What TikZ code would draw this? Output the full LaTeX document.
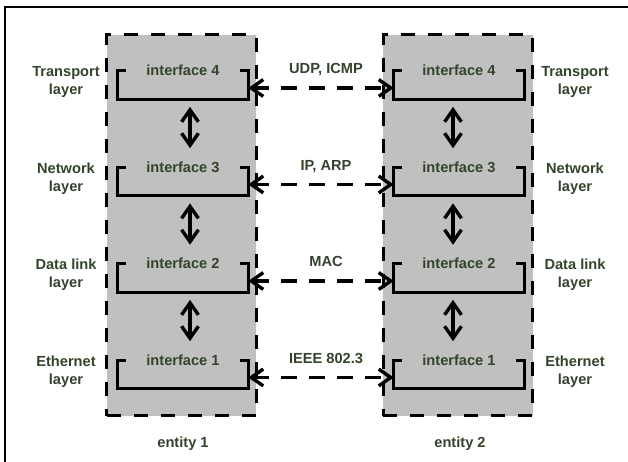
\documentclass[tikz,border=0pt]{standalone}
\usepackage{fontspec}
\setmainfont{Liberation Sans}
\usepackage{xcolor}
\usepackage{tikz}
\usetikzlibrary{positioning, arrows.meta}
\definecolor{osiTxt}{RGB}{ 52, 68, 44}
\definecolor{osiBox}{RGB}{192,192,192}

\begin{document}
\begin{tikzpicture}[
    ebox/.style={draw=black, line width=0.075cm, dash pattern=on 0.35cm off 0.325cm,
                 fill=osiBox, minimum width=3.73cm, minimum height=9.525cm},
    iface/.style={minimum width=3.25cm, minimum height=0.7cm, inner sep=0pt},
    bracket/.style={draw=black, line width=0.075cm},
    txt/.style={text=osiTxt, font=\fontsize{10.4}{12.8}\selectfont\bfseries, align=center},
    link/.style={line width=0.085cm, dash pattern=on 0.4cm off 0.3cm,
                 {Straight Barb[length=0.3cm, width=0.42cm]}-{Straight Barb[length=0.3cm, width=0.42cm]}},
    updown/.style={line width=0.085cm, shorten <=0.19cm, shorten >=0.475cm,
                 {Straight Barb[length=0.3cm, width=0.42cm]}-{Straight Barb[length=0.3cm, width=0.42cm]}}
  ]
  \useasboundingbox (0,0) rectangle (15.7,11.55);
  \draw[line width=0.05cm] (0.125,-1) rectangle (17,11.375);

  % entities
  \node[ebox] (e1) at (4.5375, 5.9125) {};
  \node[ebox] (e2) at (11.45, 5.9125) {};
  \node[txt] (n1) at (4.575, 0.45) {entity 1};
  \node[txt] (n2) at (11.5, 0.45) {entity 2};

  % interfaces
  \foreach \i/\y in {4/9.425, 3/7.0125, 2/4.6, 1/2.1875} {
    \node[iface] (a\i) at (4.575, \y) {};
    \node[iface] (b\i) at (11.475, \y) {};
    \foreach \f in {a\i, b\i} {
      \draw[bracket] ([xshift=0.2cm]\f.north west) -- (\f.north west) -- (\f.south west)
        -- (\f.south east) -- (\f.north east) -- ([xshift=-0.2cm]\f.north east);
      \node[txt] (t\f) at (\f.north) {interface \i};
    }
  }

  % layers
  \foreach \i/\y/\l in {4/9.425/Transport, 3/7.0125/Network, 2/4.6/Data link, 1/2.1875/Ethernet} {
    \node[txt] (la\i) at (1.65, \y+0.07) {\l\\layer};
    \node[txt] (lb\i) at (14.375, \y+0.07) {\l\\layer};
  }

  % protocols
  \foreach \i/\p in {4/{UDP, ICMP}, 3/{IP, ARP}, 2/MAC, 1/IEEE 802.3} {
    \draw[link] ([yshift=-0.075cm]a\i.east) -- node[txt, anchor=base, yshift=0.36cm, xshift=0.125cm] (p\i) {\p}
      ([yshift=-0.075cm]b\i.west);
  }

  % up and down
  \foreach \i/\j in {4/3, 3/2, 2/1} {
    \draw[updown] ([xshift=0.175cm]a\i.south) -- ([xshift=0.175cm]a\j.north);
    \draw[updown] ([xshift=-0.15cm]b\i.south) -- ([xshift=-0.15cm]b\j.north);
  }
\end{tikzpicture}
\end{document}
